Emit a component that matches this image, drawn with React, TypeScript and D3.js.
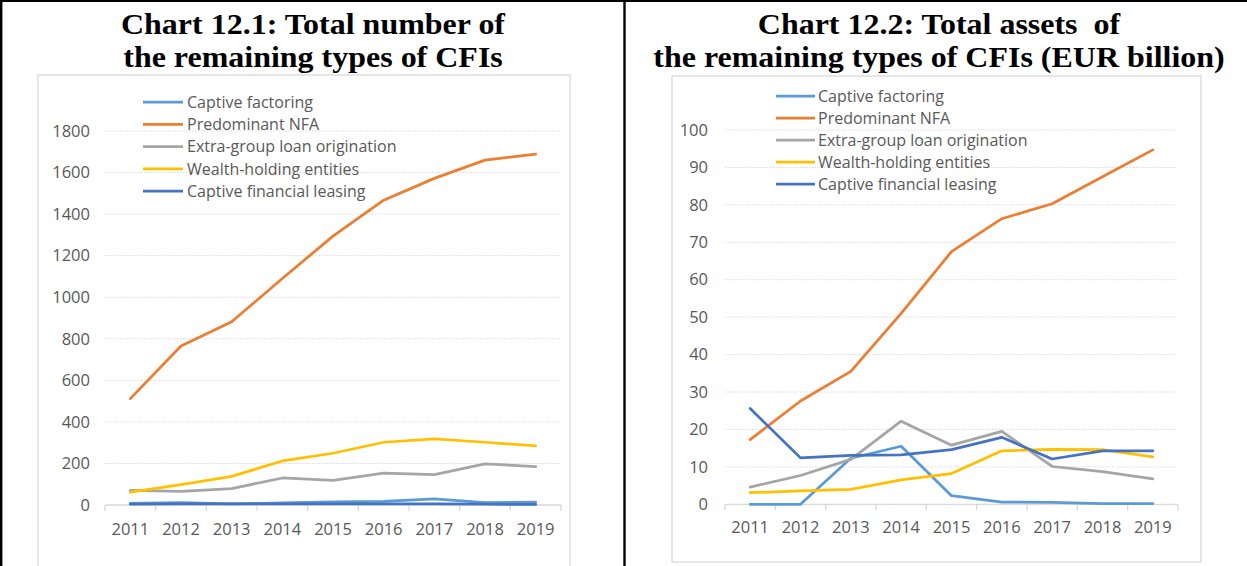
import React from "react";
import * as d3 from "d3";

const years = ["2011", "2012", "2013", "2014", "2015", "2016", "2017", "2018", "2019"];
const seriesNames = [
  "Captive factoring",
  "Predominant NFA",
  "Extra-group loan origination",
  "Wealth-holding entities",
  "Captive financial leasing",
];
const seriesColors = ["#5B9BD5", "#ED7D31", "#A5A5A5", "#FFC000", "#4472C4"];

// Chart 12.1: number of entities
const numCaptiveFactoring = [8, 12, 5, 10, 15, 18, 30, 12, 14];
const numPredominantNFA = [512, 765, 882, 1090, 1294, 1467, 1572, 1660, 1689];
const numExtraGroup = [70, 65, 79, 130, 119, 153, 146, 198, 185];
const numWealthHolding = [62, 98, 138, 212, 249, 302, 318, 302, 284];
const numCaptiveLeasing = [4, 6, 5, 5, 5, 5, 5, 4, 3];
const numTicks = [0, 200, 400, 600, 800, 1000, 1200, 1400, 1600, 1800];

// Chart 12.2: total assets (EUR billion)
const assetsCaptiveFactoring = [0, 0, 12.3, 15.5, 2.3, 0.6, 0.5, 0.2, 0.2];
const assetsPredominantNFA = [17.3, 27.6, 35.5, 51, 67.5, 76.3, 80.3, 87.5, 94.7];
const assetsExtraGroup = [4.6, 7.7, 12, 22.2, 15.8, 19.5, 10.1, 8.7, 6.8];
const assetsWealthHolding = [3.1, 3.6, 4.0, 6.5, 8.2, 14.3, 14.7, 14.6, 12.7];
const assetsCaptiveLeasing = [25.6, 12.4, 13.1, 13.2, 14.6, 17.9, 12.1, 14.3, 14.3];
const assetsTicks = [0, 10, 20, 30, 40, 50, 60, 70, 80, 90, 100];

const FONT = "'Open Sans', sans-serif";
const TXT = "#595959";
const GRID = "#D9D9D9";

type PanelProps = {
  titleLines: string[];
  titleX: number;
  box: { x: number; y: number; w: number; h: number };
  plot: { left: number; right: number; top: number; bottom: number };
  yMax: number;
  ticks: number[];
  series: number[][];
  legend: { lineX1: number; lineX2: number; textX: number; y0: number; dy: number };
  labelX: number;
  xLabelY: number;
};

function Panel(p: PanelProps) {
  const x = d3.scaleBand<string>().domain(years).range([p.plot.left, p.plot.right]);
  const y = d3.scaleLinear().domain([0, p.yMax]).range([p.plot.bottom, p.plot.top]);
  const line = d3
    .line<number>()
    .x((_, i) => (x(years[i]) as number) + x.bandwidth() / 2)
    .y((d) => y(d));
  const boundaries = years.map((yr) => x(yr) as number).concat([p.plot.right]);
  return (
    <g>
      {p.titleLines.map((t, i) => (
        <text
          key={i}
          transform={`translate(${p.titleX},${34 + i * 33}) scale(1.066,1)`}
          textAnchor="middle"
          fontFamily="'Liberation Serif', 'Times New Roman', serif"
          fontWeight="bold"
          fontSize={30}
          fill="#000"
          style={{ whiteSpace: "pre" }}
        >
          {t}
        </text>
      ))}
      <rect
        x={p.box.x}
        y={p.box.y}
        width={p.box.w}
        height={p.box.h}
        fill="#fff"
        stroke={GRID}
        strokeWidth={1.3}
      />
      {p.ticks.map((t) =>
        t === 0 ? null : (
          <line
            key={"g" + t}
            x1={p.plot.left}
            x2={p.plot.right}
            y1={y(t)}
            y2={y(t)}
            stroke={GRID}
            strokeWidth={1}
            strokeDasharray="1.5,1.5"
          />
        )
      )}
      {p.ticks.map((t) => (
        <text
          key={"l" + t}
          x={p.labelX}
          y={y(t)}
          dy="0.35em"
          textAnchor="end"
          fontFamily={FONT}
          fontSize={16.5}
          fill={TXT}
        >
          {t}
        </text>
      ))}
      <line x1={p.plot.left} x2={p.plot.right} y1={y(0)} y2={y(0)} stroke={GRID} strokeWidth={1.3} />
      {boundaries.map((bx, i) => (
        <line key={"t" + i} x1={bx} x2={bx} y1={y(0)} y2={y(0) + 6} stroke={GRID} strokeWidth={1.3} />
      ))}
      {years.map((yr) => (
        <text
          key={yr}
          x={(x(yr) as number) + x.bandwidth() / 2}
          y={p.xLabelY}
          dy="0.35em"
          textAnchor="middle"
          fontFamily={FONT}
          fontSize={16.5}
          fill={TXT}
        >
          {yr}
        </text>
      ))}
      {p.series.map((s, i) => (
        <path
          key={"s" + i}
          d={line(s) || ""}
          fill="none"
          stroke={seriesColors[i]}
          strokeWidth={2.75}
          strokeLinejoin="round"
          strokeLinecap="round"
        />
      ))}
      {seriesNames.map((n, i) => {
        const ly = p.legend.y0 + i * p.legend.dy;
        return (
          <g key={"lg" + i}>
            <line
              x1={p.legend.lineX1}
              x2={p.legend.lineX2}
              y1={ly}
              y2={ly}
              stroke={seriesColors[i]}
              strokeWidth={2.75}
            />
            <text x={p.legend.textX} y={ly} dy="0.35em" fontFamily={FONT} fontSize={16} fill={TXT}>
              {n}
            </text>
          </g>
        );
      })}
    </g>
  );
}

export default function App() {
  return (
    <svg
      width={1247}
      height={566}
      style={{ position: "absolute", left: 0, top: 0, display: "block" }}
    >
      <rect x={0} y={0} width={1247} height={566} fill="#fff" />
      <Panel
        titleLines={["Chart 12.1: Total number of", "the remaining types of CFIs"]}
        titleX={313}
        box={{ x: 38, y: 75, w: 532, h: 500 }}
        plot={{ left: 105, right: 561, top: 131, bottom: 505 }}
        yMax={1800}
        ticks={numTicks}
        series={[numCaptiveFactoring, numPredominantNFA, numExtraGroup, numWealthHolding, numCaptiveLeasing]}
        legend={{ lineX1: 143, lineX2: 183, textX: 187, y0: 102, dy: 22.3 }}
        labelX={90}
        xLabelY={529}
      />
      <Panel
        titleLines={["Chart 12.2: Total assets  of", "the remaining types of CFIs (EUR billion)"]}
        titleX={939}
        box={{ x: 672, y: 76, w: 529, h: 486 }}
        plot={{ left: 725, right: 1178, top: 130, bottom: 504.3 }}
        yMax={100}
        ticks={assetsTicks}
        series={[
          assetsCaptiveFactoring,
          assetsPredominantNFA,
          assetsExtraGroup,
          assetsWealthHolding,
          assetsCaptiveLeasing,
        ]}
        legend={{ lineX1: 776, lineX2: 815, textX: 818, y0: 96, dy: 22 }}
        labelX={708}
        xLabelY={527}
      />
      <line x1={1.2} x2={1.2} y1={0} y2={566} stroke="#000" strokeWidth={2.4} />
      <line x1={0} x2={1247} y1={1} y2={1} stroke="#000" strokeWidth={2} />
      <line x1={624.5} x2={624.5} y1={0} y2={566} stroke="#000" strokeWidth={2.4} />
    </svg>
  );
}
